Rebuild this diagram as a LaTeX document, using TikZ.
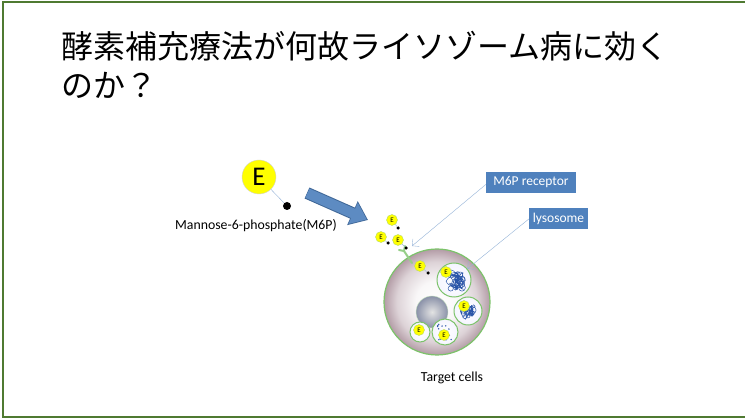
\documentclass[tikz,border=0pt]{standalone}
\usepackage{fontspec}
\setmainfont{Carlito}
\newfontfamily\jpfont{Noto Sans CJK JP}
\usetikzlibrary{arrows.meta}
\usetikzlibrary{calc,positioning}

\definecolor{framegreen}{HTML}{4F7A31}
\definecolor{boxblue}{HTML}{4F81BD}
\definecolor{leaderblue}{HTML}{95B3D7}
\definecolor{membrane}{HTML}{7CC36A}
\definecolor{cytoplasm}{HTML}{B39CA6}
\definecolor{enzyellow}{HTML}{FFFF00}
\definecolor{enzrim}{HTML}{B5D96B}
\definecolor{tangle}{HTML}{2A55A8}

\pgfdeclareradialshading{cellshade}{\pgfpoint{0bp}{0bp}}{color(0bp)=(white); color(10bp)=(white!92!cytoplasm); color(19bp)=(white!55!cytoplasm); color(25bp)=(cytoplasm); color(50bp)=(cytoplasm)}

\begin{document}
\begin{tikzpicture}[x=1pt, y=-1pt, >={Straight Barb[length=5pt]},
    enz/.style={circle, fill=enzyellow, draw=enzrim, inner sep=0pt, minimum size=11pt, font=\fontsize{7}{7}\selectfont},
    m6pdot/.style={circle, fill=black, inner sep=0pt, minimum size=3.5pt},
    lyso/.style={circle, draw=membrane, line width=1pt, inner color=white, outer color=blue!4, inner sep=0pt},
    tagbox/.style={fill=boxblue, text=white, font=\fontsize{13.5}{16}\selectfont, minimum height=21pt, inner sep=0pt},
    yarn/.style={tangle, line width=0.5pt}]

    \useasboundingbox (0,0) rectangle (745,419);
    \draw[framegreen, line width=2pt] (745,2) -- (3,2) -- (3,417) -- (745,417);

    % title
    \node[anchor=base west, inner sep=0pt, font=\jpfont\fontsize{32}{38}\selectfont] (title1) at (61,59) {酵素補充療法が何故ライソゾーム病に効く};
    \node[anchor=base west, inner sep=0pt, font=\jpfont\fontsize{32}{38}\selectfont] (title2) at (61,98) {のか？};

    % enzyme with its M6P tag
    \node[circle, fill=enzyellow, draw=gray!35, minimum size=34pt, inner sep=0pt, font=\fontsize{27}{27}\selectfont] (enzyme) at (259,177) {E};
    \node[m6pdot, minimum size=8pt] (m6p) at (287,206) {};
    \draw[leaderblue] (enzyme) -- (m6p);
    \node[font=\fontsize{13.8}{15}\selectfont] (m6plabel) at (256,226) {Mannose-6-phosphate(M6P)};

    \coordinate (arrowtail) at (307,193);
    \coordinate (arrowtip) at (368,220);
    \draw[boxblue!80!black, line width=12pt, -{Triangle[width=25pt,length=17pt]}] (arrowtail) -- (arrowtip);
    \draw[boxblue!92!white, line width=10pt, -{Triangle[width=22pt,length=15pt]}] ($(arrowtail)!0.5pt!(arrowtip)$) -- ($(arrowtip)!1.3pt!(arrowtail)$);

    % target cell
    \node[circle, minimum size=106pt, draw=membrane, line width=1.2pt, shading=cellshade] (cell) at (437,302) {};
    \node[circle, minimum size=32pt, draw=membrane!40, inner color=gray!22, outer color={rgb,255:red,138;green,145;blue,168}] (nucleus) at (432,312) {};

    \node[lyso, minimum size=34pt] (lys1) at (454,280) {};
    \node[lyso, minimum size=28pt] (lys2) at (468,311) {};
    \node[lyso, minimum size=20pt] (lys3) at (420,332) {};
    \node[lyso, minimum size=26pt] (lys4) at (445,332) {};

    % undigested material
    \pgfmathsetseed{11}
    \draw[yarn] plot[smooth, tension=0.7, samples=40, domain=1:40] ({455+9*rand},{281+9*rand});
    \foreach \k in {1,...,9}
        \draw[yarn] ({455+8*rand},{281+8*rand}) circle ({2+2*rnd});
    \draw[yarn] plot[smooth, tension=0.7, samples=28, domain=1:28] ({468+7*rand},{312+7*rand});
    \foreach \k in {1,...,6}
        \draw[yarn] ({468+6.5*rand},{312+6.5*rand}) circle ({1.5+2*rnd});
    \foreach \k in {1,...,18}
        \fill[tangle] ({445+8*rand},{332+8*rand}) circle (0.8);

    \node[enz] (e5) at (446,272) {E};
    \node[enz] (e6) at (464,306) {E};
    \node[enz] (e7) at (419,330) {E};
    \node[enz] (e8) at (444,335) {E};

    % receptor on the membrane
    \coordinate (rcpt) at (408,256);
    \draw[membrane!80!white, line width=2pt, line cap=round] (404,251) -- (412,263) (404,251) -- (399,250) (404,251) -- (405,246);

    % enzymes on the way in
    \foreach \n/\ex/\ey/\dx/\dy in {1/392/220/398/228, 2/381/237/388/243, 3/398/240/406/248, 4/420/266/428/273} {
        \node[enz] (e\n) at (\ex,\ey) {E};
        \node[m6pdot] (d\n) at (\dx,\dy) {};
        \draw[leaderblue, thin] (e\n) -- (d\n);
    }

    % labels
    \node[tagbox, minimum width=90pt] (rcptlabel) at (531,182.5) {M6P receptor};
    \node[tagbox, minimum width=59pt] (lyslabel) at (558.5,219) {lysosome};
    \coordinate (rcpttip) at (412,246);
    \draw[leaderblue, ->] ([yshift=-2pt]rcptlabel.west) -- (rcpttip);
    \draw[leaderblue, ->] (lyslabel.west) -- (lys1.40);

    \node[font=\fontsize{13.8}{15}\selectfont] (cellslabel) at (452,378) {Target cells};

\end{tikzpicture}
\end{document}
